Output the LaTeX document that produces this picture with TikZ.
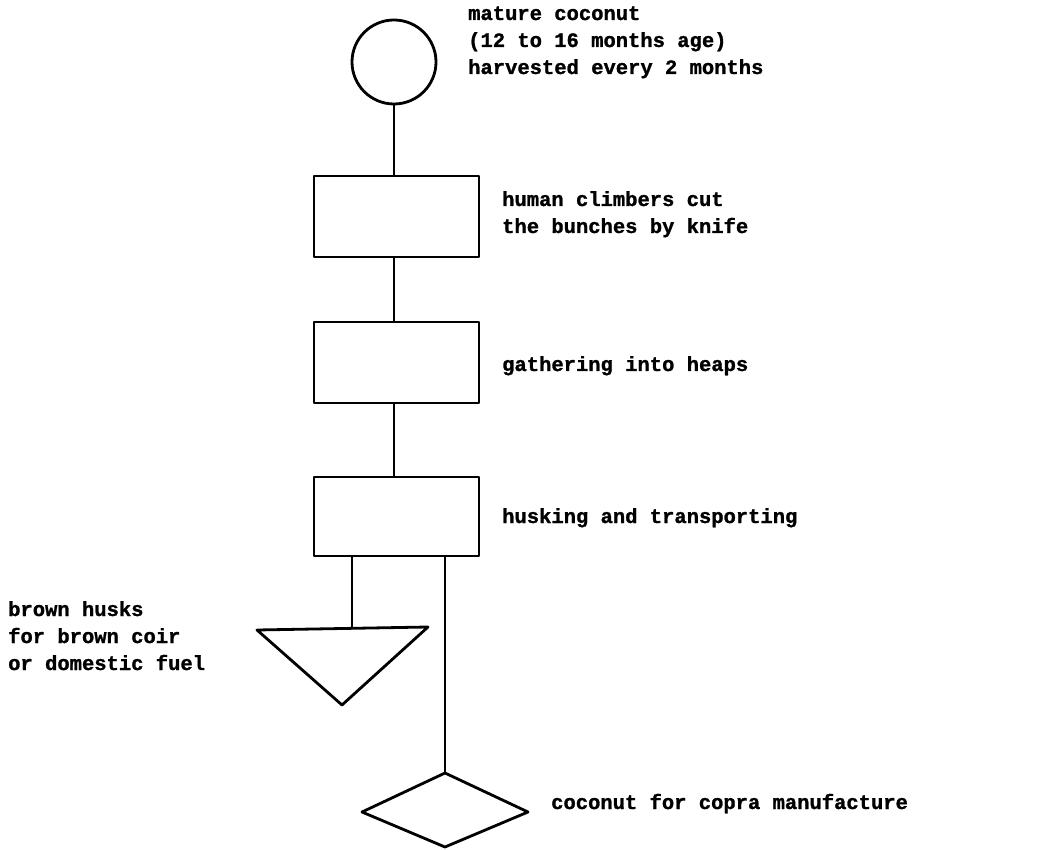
\documentclass[tikz,border=0pt]{standalone}
\usepackage{fontspec}
\setmonofont{Liberation Mono}[BoldFeatures={FakeBold=1.2}]
\usetikzlibrary{calc}
\begin{document}
\begin{tikzpicture}[x=1pt,y=-1pt,
  shp/.style={draw=black,line width=2.8pt,line join=round},
  conn/.style={draw=black,line width=2.8pt},
  boxnode/.style={shp,minimum width=165pt,minimum height=81pt,inner sep=0pt,outer sep=0pt,anchor=north west},
  lbl/.style={font=\ttfamily\bfseries\fontsize{20.5}{27}\selectfont,align=left,inner sep=0pt,anchor=base west}
]
\useasboundingbox (0,0) rectangle (1053,850);
% shapes
\node[shp,circle,minimum size=84pt,inner sep=0pt,outer sep=0pt] (coco) at (394,62) {};
\node[boxnode] (b1) at (314,176) {};
\node[boxnode] (b2) at (314,322) {};
\node[boxnode,minimum height=79pt] (b3) at (314,477) {};
% triangle
\coordinate (tl) at (257,630);
\coordinate (tr) at (428,627);
\coordinate (tb) at (342,705);
\coordinate (ttop) at (352,629);
\draw[shp] (tl) -- (tr) -- (tb) -- cycle;
% diamond
\coordinate (dt) at (445,773);
\coordinate (dl) at (362,812);
\coordinate (dr) at (528,812);
\coordinate (db) at (445,847);
\draw[shp] (dt) -- (dr) -- (db) -- (dl) -- cycle;
% connectors
\draw[conn] (coco.south) -- (b1.north -| coco.south);
\draw[conn] (b1.south -| coco.south) -- (b2.north -| coco.south);
\draw[conn] (b2.south -| coco.south) -- (b3.north -| coco.south);
\draw[conn] (b3.south -| ttop) -- (ttop);
\draw[conn] (b3.south -| dt) -- (dt);
% labels
\node[lbl] (t1) at (468,20) {mature coconut};
\node[lbl] (t1b) at (468,47) {(12 to 16 months age)};
\node[lbl] (t1c) at (468,74) {harvested every 2 months};
\node[lbl] (t2) at (502,206) {human climbers cut};
\node[lbl] (t2b) at (502,233) {the bunches by knife};
\node[lbl] (t3) at (502,371) {gathering into heaps};
\node[lbl] (t4) at (502,523) {husking and transporting};
\node[lbl] (t5) at (8,616) {brown husks};
\node[lbl] (t5b) at (8,643) {for brown coir};
\node[lbl] (t5c) at (8,670) {or domestic fuel};
\node[lbl] (t6) at (551,809) {coconut for copra manufacture};
\end{tikzpicture}
\end{document}
